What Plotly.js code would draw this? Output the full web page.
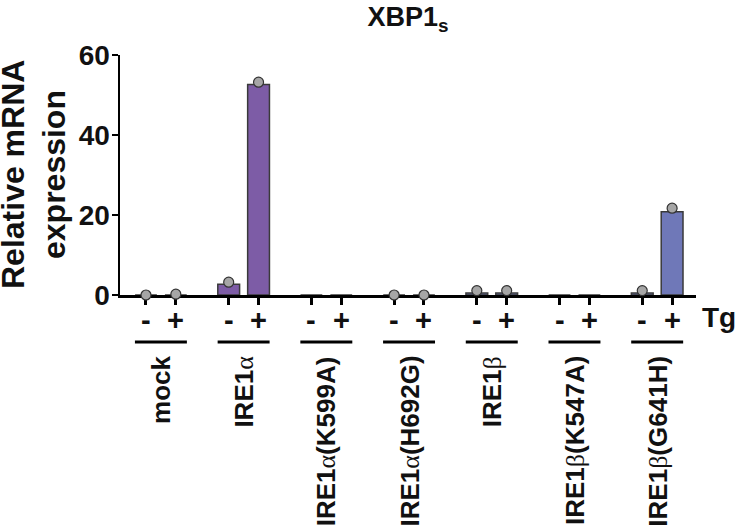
<!DOCTYPE html>
<html>
<head>
<meta charset="utf-8">
<script src="https://cdn.plot.ly/plotly-3.0.1.min.js"></script>
<style>
  html, body { margin: 0; padding: 0; background: #fff; }
  #plot { width: 736px; height: 528px; }
</style>
</head>
<body>
<div id="plot"></div>
<script>
// constructs shown under the bracket lines
var groups = ['mock', 'IRE1α', 'IRE1α(K599A)', 'IRE1α(H692G)', 'IRE1β', 'IRE1β(K547A)', 'IRE1β(G641H)'];
var tgLabels = ['-', '+'];

// bar heights (mean) for Tg - and Tg +
var barMinus = [0, 2.7, 0, 0, 0.5, 0, 0.5];
var barPlus = [0, 52.6, 0, 0, 0.5, 0, 20.8];

// individual replicate points (null = not measured)
var dotMinus = [0, 3.2, null, 0, 1.1, null, 1.1];
var dotPlus = [0.2, 53.2, null, 0, 1.1, null, 21.7];

var groupColours = ['#7d5ca6', '#7d5ca6', '#7d5ca6', '#7d5ca6', '#6f78b8', '#6f78b8', '#6f78b8'];

var FONT = 'Liberation Sans, Arial, sans-serif';
var GROUP_STEP = 2.77; // distance between groups, in units of the -/+ spacing

var L = 120, R = 40, T = 55, B = 233;
var plotHeight = 528 - T - B;

// turn a pixel offset under the x axis into paper coordinates
function paperY(px) {
    return -(px - (528 - B)) / plotHeight;
}

var xs = [], bars = [], dots = [], colours = [], tickText = [];
for (var i = 0; i < groups.length; i++) {
    xs.push(i * GROUP_STEP, i * GROUP_STEP + 1);
    bars.push(barMinus[i], barPlus[i]);
    dots.push(dotMinus[i], dotPlus[i]);
    colours.push(groupColours[i], groupColours[i]);
    tickText.push(tgLabels[0], tgLabels[1]);
}

var barTrace = {
    type: 'bar',
    x: xs,
    y: bars,
    width: 0.73,
    marker: { color: colours, line: { color: '#3a3a3a', width: 1.5 } },
    showlegend: false,
    hoverinfo: 'y'
};

var dotTrace = {
    type: 'scatter',
    mode: 'markers',
    x: xs,
    y: dots,
    cliponaxis: false,
    marker: { size: 10, color: '#a6a6a6', line: { color: '#333', width: 1.2 } },
    showlegend: false,
    hoverinfo: 'y'
};

var shapes = [];
var annotations = [];

// -/+ under each tick (drawn as annotations so they sit tight under the ticks)
for (var k = 0; k < xs.length; k++) {
    annotations.push({
        xref: 'x', yref: 'paper',
        x: xs[k], y: paperY(320),
        xanchor: 'center', yanchor: 'middle',
        text: tickText[k], showarrow: false,
        font: { family: FONT, size: 29, weight: 'bold', color: '#111' }
    });
}

for (var i = 0; i < groups.length; i++) {
    var centre = i * GROUP_STEP + 0.5;
    // bracket under each -/+ pair
    shapes.push({
        type: 'line', xref: 'x', yref: 'paper',
        x0: centre - 0.87, x1: centre + 0.87,
        y0: paperY(342), y1: paperY(342),
        line: { color: '#000', width: 3 }
    });
    // greek letters come out in a plain serif face like the original
    var label = groups[i].replace(/([αβ])/g, '<span style="font-family:Liberation Serif, serif;font-weight:normal">$1</span>');
    annotations.push({
        xref: 'x', yref: 'paper',
        x: centre, y: paperY(354),
        xanchor: 'center', yanchor: 'top',
        textangle: -90,
        text: label,
        showarrow: false,
        font: { family: FONT, size: 26, weight: 'bold', color: '#111' }
    });
}

annotations.push({
    xref: 'paper', yref: 'paper',
    x: (700 - L) / (736 - L - R), y: paperY(317),
    xanchor: 'left', yanchor: 'middle',
    text: 'Tg', showarrow: false,
    font: { family: FONT, size: 28, weight: 'bold', color: '#111' }
});

// two-line y title, placed by hand
annotations.push({
    xref: 'paper', yref: 'paper',
    x: (13 - L) / (736 - L - R), y: 0.5,
    xanchor: 'center', yanchor: 'middle',
    textangle: -90, text: 'Relative mRNA', showarrow: false,
    font: { family: FONT, size: 32, weight: 'bold', color: '#111' }
});
annotations.push({
    xref: 'paper', yref: 'paper',
    x: (54 - L) / (736 - L - R), y: 0.5,
    xanchor: 'center', yanchor: 'middle',
    textangle: -90, text: 'expression', showarrow: false,
    font: { family: FONT, size: 32, weight: 'bold', color: '#111' }
});

var layout = {
    width: 736,
    height: 528,
    margin: { l: L, r: R, t: T, b: B },
    paper_bgcolor: '#fff',
    plot_bgcolor: '#fff',
    font: { family: FONT, color: '#111' },
    title: {
        text: 'XBP1<sub>s</sub>',
        font: { family: FONT, size: 27, weight: 'bold', color: '#111' },
        x: 0.5, xref: 'paper',
        y: 1 - 17 / 528, yref: 'container', yanchor: 'middle'
    },
    bargap: 0,
    xaxis: {
        range: [-0.87, 6 * GROUP_STEP + 1 + 0.8],
        tickvals: xs,
        showticklabels: false,
        ticks: 'outside', ticklen: 7, tickwidth: 3, tickcolor: '#000',
        showline: true, linecolor: '#000', linewidth: 3,
        showgrid: false, zeroline: false,
        layer: 'below traces',
        fixedrange: true
    },
    yaxis: {
        range: [0, 60],
        tickvals: [0, 20, 40, 60],
        ticks: 'outside', ticklen: 6, tickwidth: 2.5, tickcolor: '#000',
        tickfont: { family: FONT, size: 28, weight: 'bold', color: '#111' },
        ticklabelstandoff: -4,
        showline: true, linecolor: '#000', linewidth: 2.5,
        showgrid: false, zeroline: false,
        layer: 'below traces',
        fixedrange: true
    },
    shapes: shapes,
    annotations: annotations
};

Plotly.newPlot('plot', [barTrace, dotTrace], layout, { displayModeBar: false, staticPlot: true });
</script>
</body>
</html>
